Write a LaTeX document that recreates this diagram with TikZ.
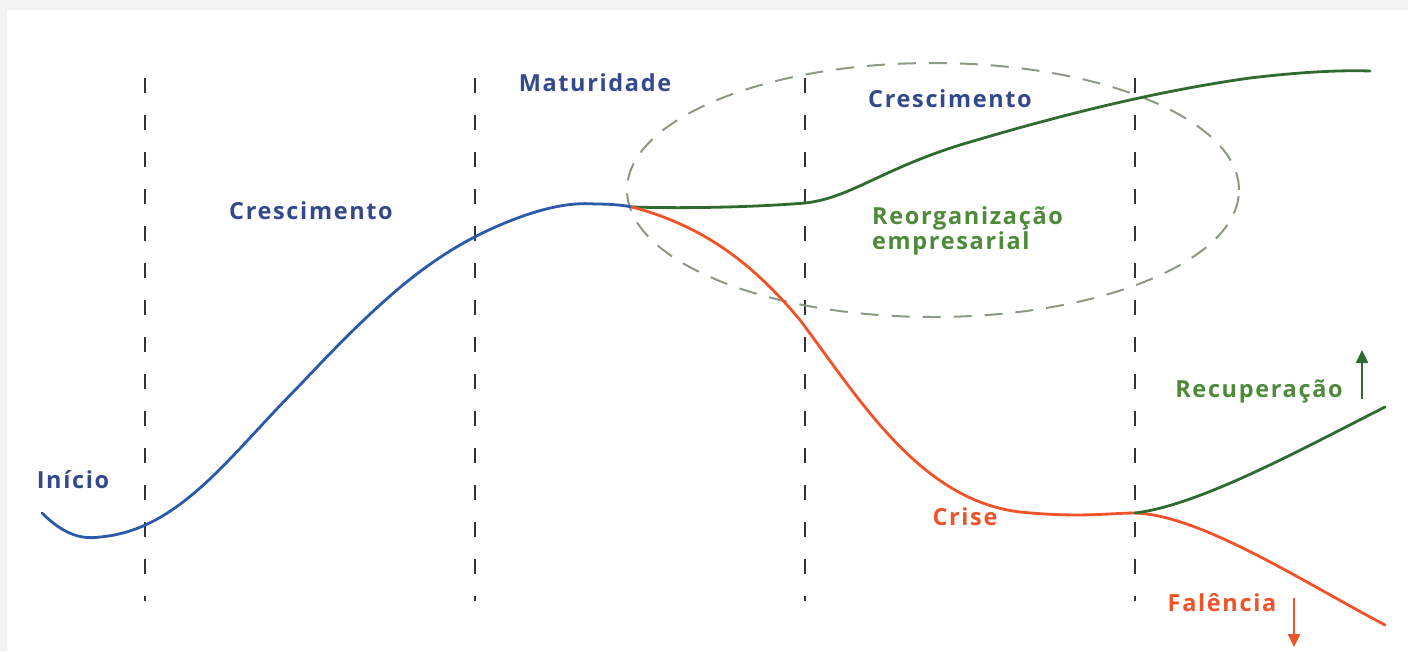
\documentclass[tikz,border=0pt]{standalone}
\usepackage{fontspec}
\setmainfont{Open Sans}
\newfontfamily\lblfont[LetterSpace=7]{Open Sans}
\usetikzlibrary{arrows.meta,shapes.geometric}
\definecolor{bgray}{HTML}{F3F3F3}
\definecolor{lblue}{HTML}{2A5AA8}
\definecolor{tblue}{HTML}{34498C}
\definecolor{lgreen}{HTML}{2F6B30}
\definecolor{tgreen}{HTML}{4E8A3A}
\definecolor{lorange}{HTML}{F0532A}
\definecolor{egray}{HTML}{8C9A84}
\begin{document}
\begin{tikzpicture}[x=1pt,y=-1pt,
  lbl/.style={font=\lblfont\fontsize{23.5}{25}\selectfont\bfseries, inner sep=0pt},
  phase/.style={draw=black!80, line width=2.6pt, dash pattern=on 15pt off 22pt},
  curve/.style={line width=2.8pt, line cap=round}]
\fill[bgray] (0,0) rectangle (1408,651);
\fill[white] (7,10) rectangle (1408,651);
\useasboundingbox (0,0) rectangle (1408,651);
% phase separators
\foreach \x/\n in {145/a,475/b,805/c,1135/d}{
  \coordinate (t\n) at (\x,78);
  \coordinate (b\n) at (\x,601);
  \draw[phase] (t\n) -- (b\n);
}
% ellipse
\node[draw=egray, line width=2pt, dash pattern=on 18pt off 13pt, ellipse, minimum width=612pt, minimum height=254pt, inner sep=0pt] (reorg) at (933,190) {};
% key points
\coordinate (start) at (42,513);
\coordinate (split) at (632,207);
\coordinate (crisis) at (1135,513);
% blue curve
\draw[curve, lblue] (start) .. controls (62,533) and (80,540) .. (100,537)
  .. controls (180,530) and (230,455) .. (300,385)
  .. controls (380,300) and (430,255) .. (500,225)
  .. controls (540,208) and (570,202) .. (595,204)
  .. controls (610,204) and (622,205) .. (split);
% green upper
\draw[curve, lgreen] (split) .. controls (700,209) and (770,206) .. (805,203)
  .. controls (850,198) and (880,170) .. (960,145)
  .. controls (1050,118) and (1150,92) .. (1250,78)
  .. controls (1300,72) and (1340,70) .. (1370,71);
% orange
\draw[curve, lorange] (split) .. controls (700,225) and (750,260) .. (800,320)
  .. controls (860,400) and (920,500) .. (1020,512)
  .. controls (1080,518) and (1110,513) .. (crisis)
  .. controls (1200,515) and (1300,580) .. (1385,625);
% green lower
\draw[curve, lgreen] (crisis) .. controls (1200,505) and (1300,450) .. (1385,407);
% labels
\node[lbl, text=tblue] (inicio) at (73,480) {Início};
\node[lbl, text=tblue] (cresc1) at (311,211) {Crescimento};
\node[lbl, text=tblue] (matur) at (595,83) {Maturidade};
\node[lbl, text=tblue] (cresc2) at (950,99) {Crescimento};
\node[lbl, text=tgreen, align=left, anchor=base west, font=\lblfont\fontsize{23.5}{25}\selectfont\bfseries] (reorgtxt) at (872,249) {Reorganização\\empresarial};
\node[lbl, text=lorange] (crise) at (965,517) {Crise};
\node[lbl, text=tgreen] (recup) at (1259,391) {Recuperação};
\node[lbl, text=lorange] (falen) at (1222,603) {Falência};
% arrows
\coordinate (ua1) at (1362,399);
\coordinate (ua2) at (1362,350);
\draw[lgreen, line width=2.4pt, -{Triangle[length=13pt,width=12pt]}] (ua1) -- (ua2);
\coordinate (da1) at (1294,598);
\coordinate (da2) at (1294,647);
\draw[lorange, line width=2.4pt, -{Triangle[length=13pt,width=12pt]}] (da1) -- (da2);
\end{tikzpicture}
\end{document}
